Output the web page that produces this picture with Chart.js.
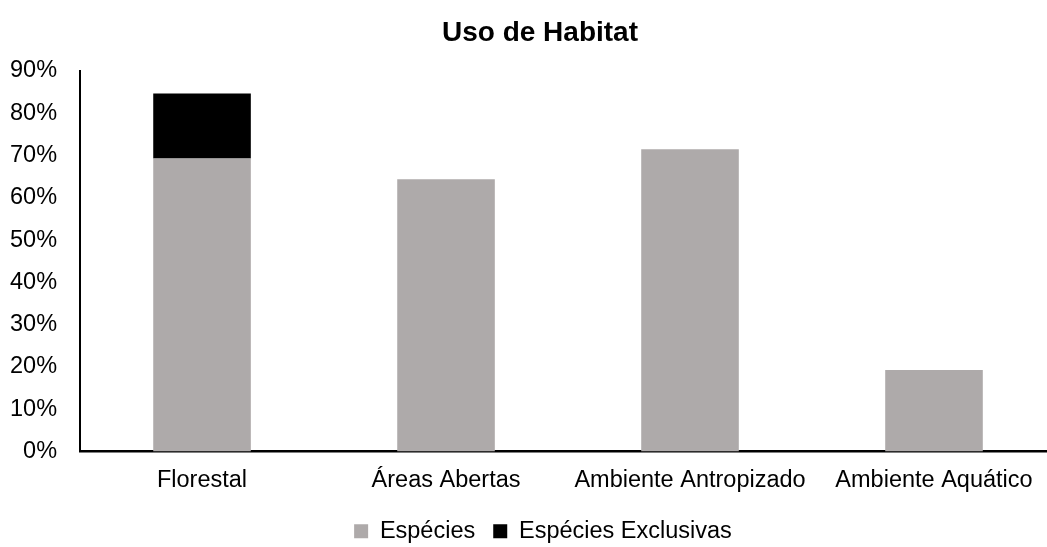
<!DOCTYPE html>
<html><head><meta charset="utf-8">
<script src="https://cdn.jsdelivr.net/npm/chart.js@4"></script>
<style>html,body{margin:0;padding:0;background:#fff;overflow:hidden;width:1047px;height:547px}</style>
</head><body>
<canvas id="c" width="1080" height="547" style="display:block"></canvas>
<script>
const categories = ['Florestal', 'Áreas Abertas', 'Ambiente Antropizado', 'Ambiente Aquático'];
const especies = [69.3, 64.4, 71.5, 19.3];
const especiesExclusivas = [15.4, null, null, null];
const yMin = 0, yMax = 90, yStep = 10;
const seriesNames = ['Espécies', 'Espécies Exclusivas'];

const FONT = 'Liberation Sans, Arial, sans-serif';
Chart.defaults.font.family = FONT;
Chart.defaults.color = '#000';

// shift title / legend blocks horizontally to match the reference centring
const shiftBlocks = {
  id: 'shiftBlocks',
  afterLayout(chart) {
    if (chart.titleBlock) { chart.titleBlock.left += 18.5; chart.titleBlock.right += 18.5; }
    if (chart.legend) { chart.legend.left += 21.5; chart.legend.right += 21.5; }
  }
};

new Chart(document.getElementById('c'), {
  type: 'bar',
  data: {
    labels: categories,
    datasets: [
      { label: seriesNames[0], data: especies, backgroundColor: '#AEAAAA', borderWidth: 0 },
      { label: seriesNames[1], data: especiesExclusivas, backgroundColor: '#000000', borderWidth: 0 }
    ]
  },
  options: {
    responsive: false,
    animation: false,
    layout: { padding: { left: -13, right: 24, top: 0, bottom: -6 } },
    datasets: { bar: { categoryPercentage: 1, barPercentage: 0.4 } },
    plugins: {
      title: {
        display: true, text: 'Uso de Habitat', color: '#000',
        font: { family: FONT, size: 28, weight: 'bold' },
        padding: { top: 16, bottom: 21.4 }
      },
      legend: {
        position: 'bottom',
        labels: { font: { family: FONT, size: 23.5 }, color: '#000', boxWidth: 14, boxHeight: 14, padding: 18 }
      },
      tooltip: { enabled: false }
    },
    scales: {
      x: {
        stacked: true,
        grid: { display: false, drawTicks: false },
        border: { display: true, color: '#000', width: 2.5 },
        ticks: { font: { family: FONT, size: 23.5 }, color: '#000', padding: 15, maxRotation: 0, autoSkip: false },
        afterFit: s => { s.height = 50; }
      },
      y: {
        stacked: true,
        min: yMin, max: yMax,
        grid: { display: false, drawTicks: false },
        border: { display: true, color: '#000', width: 2 },
        ticks: { stepSize: yStep, font: { family: FONT, size: 23.5 }, color: '#000', padding: 23, callback: v => v + '%' }
      }
    }
  },
  plugins: [shiftBlocks]
});
</script>
</body></html>
